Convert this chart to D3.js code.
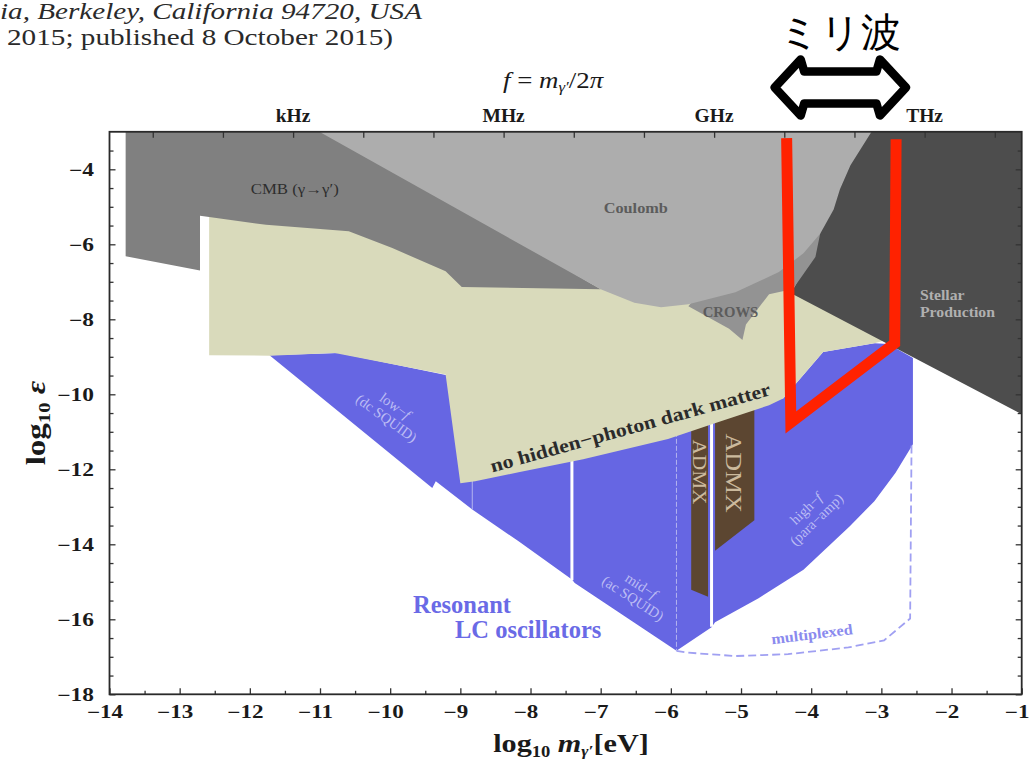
<!DOCTYPE html>
<html>
<head>
<meta charset="utf-8">
<script src="https://cdnjs.cloudflare.com/ajax/libs/d3/7.8.5/d3.min.js"></script>
<style>
  body { margin: 0; background: #fff; }
  svg { display: block; }
  text { font-family: "Liberation Serif", "Times New Roman", serif; }
</style>
</head>
<body>
<div id="chart"></div>
<script>
// all regions are [log10 m (eV), log10 epsilon]
var cmbRegion = [[-13.77,-3.0],[-10.8,-3.0],[-7.0,-7.2],[-8.98,-7.14],[-9.21,-6.72],[-9.97,-6.10],
    [-10.59,-5.65],[-11.77,-5.48],[-12.58,-5.27],[-12.71,-5.24],[-12.71,-6.70],[-13.77,-6.32]];

var coulombRegion = [[-11.01,-3.0],[-3.14,-3.0],[-3.44,-3.89],[-3.59,-4.53],[-3.68,-5.07],[-3.87,-5.71],
    [-4.11,-6.24],[-4.46,-6.74],[-5.08,-7.28],[-5.75,-7.60],[-6.14,-7.68],[-6.52,-7.56],[-7.0,-7.2]];

var crowsRegion = [[-5.75,-7.65],[-5.17,-8.25],[-4.98,-8.55],[-4.93,-8.14],[-4.60,-7.33],[-4.26,-7.19],
    [-3.94,-6.34],[-3.87,-5.70],[-4.0,-5.9],[-4.3,-6.3],[-4.9,-6.9],[-5.6,-7.3]];

var stellarRegion = [[-3.24,-3.0],[-1.0,-3.0],[-1.0,-10.53],[-4.26,-7.33],[-4.27,-7.25],[-4.02,-6.34],
    [-3.95,-5.71],[-3.76,-5.07],[-3.67,-4.53],[-3.52,-3.89]];

var darkMatterRegion = [[-12.58,-5.15],[-11.77,-5.35],[-10.59,-5.53],[-9.97,-5.98],[-9.21,-6.60],[-8.98,-7.02],
    [-7.0,-7.08],[-6.52,-7.45],[-6.14,-7.56],[-5.75,-7.53],[-5.17,-8.13],[-4.98,-8.43],[-4.93,-8.02],
    [-4.60,-7.21],[-4.26,-7.13],[-2.90,-8.54],[-3.10,-8.64],[-3.83,-8.87],[-4.40,-10.11],[-4.60,-10.29],
    [-5.32,-10.74],[-6.04,-11.19],[-7.25,-11.73],[-8.17,-12.08],[-8.79,-12.32],[-9.0,-12.37],
    [-9.21,-9.47],[-10.79,-8.90],[-11.72,-8.97],[-12.58,-8.96]];

var resonantRegion = [[-11.72,-8.96],[-10.73,-8.90],[-9.19,-9.49],[-4.40,-10.11],[-3.83,-8.87],[-3.10,-8.64],
    [-2.90,-8.66],[-2.55,-9.03],[-2.55,-11.33],[-2.80,-12.10],[-3.10,-12.85],[-3.45,-13.52],[-4.11,-14.68],
    [-4.75,-15.44],[-5.37,-16.08],[-5.42,-16.21],[-5.92,-16.84],[-7.37,-15.03],[-7.41,-14.94],[-8.17,-13.92],
    [-8.83,-13.07],[-9.35,-12.32],[-9.40,-12.50],[-11.30,-9.60]];

var admxSmall = [[-5.71,-10.7],[-5.47,-10.7],[-5.47,-15.40],[-5.71,-15.21]];
var admxLarge = [[-5.37,-10.4],[-4.81,-10.4],[-4.81,-13.36],[-5.37,-14.17]];

// white dividers between the LC bands
var dividerX = [-8.83, -7.41, -5.92, -5.42];
var dividerTop = [-12.2, -11.6, -11.0, -10.7];
var dividerBottom = [-13.07, -14.96, -16.84, -16.2];

var multiplexed = [[-5.92,-16.84],[-5.75,-16.89],[-5.08,-16.98],[-4.33,-16.93],[-3.47,-16.75],
    [-2.96,-16.56],[-2.59,-15.98],[-2.57,-11.36]];

var mmWaveLine = [[-4.35,-3.17],[-4.29,-10.75],[-2.81,-8.64],[-2.79,-3.2]];
var mmWaveRange = [-4.52, -2.65];

var xTickValues = d3.range(-14, 0, 1);
var yTickValues = d3.range(-18, -3, 2);
var freqNames = ["kHz", "MHz", "GHz", "THz"];
var freqLogHz = [3, 6, 9, 12];
var logHzPerEV = 14.3835;

var W = 1034, H = 763;

var x = d3.scaleLinear().domain([-14, -1]).range([109.5, 1021.7]);
var y = d3.scaleLinear().domain([-18, -3]).range([694.3, 131.8]);

var svg = d3.select("#chart").append("svg")
    .attr("width", W)
    .attr("height", H);

svg.append("clipPath").attr("id", "plotClip").append("rect")
    .attr("x", x(-14)).attr("y", y(-3))
    .attr("width", x(-1) - x(-14)).attr("height", y(-18) - y(-3));

var plot = svg.append("g").attr("clip-path", "url(#plotClip)");

var line = d3.line().x(function (d) { return x(d[0]) }).y(function (d) { return y(d[1]) });

function region(pts, fill) {
    plot.append("path").attr("d", line(pts) + "Z").attr("fill", fill);
}

function stretch(sel, k) {
    sel.each(function () {
        var w = this.getComputedTextLength();
        d3.select(this).attr("textLength", w * k).attr("lengthAdjust", "spacingAndGlyphs");
    });
}

region(resonantRegion, "#6666e3");
region(admxSmall, "#5c4631");
region(admxLarge, "#5c4631");

dividerX.forEach(function (d, i) {
    var thin = (i == 0 || i == 2);
    plot.append("line")
        .attr("x1", x(d)).attr("x2", x(d))
        .attr("y1", y(dividerTop[i])).attr("y2", y(dividerBottom[i]))
        .attr("stroke", thin ? "#b4b4ef" : "#ffffff")
        .attr("stroke-width", thin ? 1 : 3)
        .attr("stroke-dasharray", i == 2 ? "5,2" : null);
});

region(darkMatterRegion, "#d9dabb");
region(cmbRegion, "#808080");
region(stellarRegion, "#4d4d4d");
region(crowsRegion, "#939393");
region(coulombRegion, "#adadad");

plot.append("path")
    .attr("d", line(multiplexed))
    .attr("fill", "none")
    .attr("stroke", "#a0a0f2")
    .attr("stroke-width", 1.8)
    .attr("stroke-dasharray", "8,4");

// labels inside the plot; "|" switches to italic
function note(lines, X, Y, angle, opts) {
    var g = svg.append("g")
        .attr("transform", "translate(" + x(X) + "," + y(Y) + ") rotate(" + angle + ")");
    var lh = opts.lineHeight || opts.size * 1.0;
    lines.forEach(function (t, i) {
        var tx = g.append("text")
            .attr("x", 0)
            .attr("y", (i - (lines.length - 1) / 2) * lh)
            .attr("dy", "0.35em")
            .attr("text-anchor", opts.anchor || "middle")
            .attr("font-size", opts.size)
            .attr("font-weight", opts.weight || "normal")
            .attr("fill", opts.color);
        t.split("|").forEach(function (part, j) {
            tx.append("tspan").attr("font-style", j % 2 ? "italic" : "normal").text(part);
        });
        if (opts.stretch) stretch(tx, opts.stretch);
    });
}

note(["CMB (γ→γ′)"], -11.36, -4.53, 0, { size: 14, color: "#2e2e2e", stretch: 1.2 });
note(["Coulomb"], -6.50, -5.03, 0, { size: 15.5, color: "#5c5c5c", weight: "bold", stretch: 1.05 });
note(["CROWS"], -5.15, -7.81, 0, { size: 14, color: "#5c5c5c", weight: "bold", stretch: 1.05 });
note(["Stellar", "Production"], -2.45, -7.57, 0, { size: 15, color: "#b0b0b0", anchor: "start", weight: "bold", lineHeight: 16.5, stretch: 1.05 });
note(["low−|f|", "(dc SQUID)"], -9.99, -10.47, 36, { size: 14.5, color: "#bcbcf4", lineHeight: 15 });
note(["mid−|f|", "(ac SQUID)"], -6.48, -15.27, 33, { size: 14.5, color: "#bcbcf4", lineHeight: 15 });
note(["high−|f|", "(para−amp)"], -4.0, -13.19, -44, { size: 14.5, color: "#bcbcf4", lineHeight: 15 });
note(["multiplexed"], -3.99, -16.39, -7, { size: 15, color: "#8a8aee", weight: "bold", stretch: 1.08 });
note(["no hidden−photon dark matter"], -6.58, -10.88, -15.5, { size: 19, color: "#2b2b2b", weight: "bold", stretch: 1.15 });
note(["ADMX"], -5.59, -12.07, 90, { size: 19, color: "#cbb99d", stretch: 1.12 });
note(["ADMX"], -5.09, -12.1, 90, { size: 24, color: "#cbb99d", stretch: 1.08 });

svg.append("text")
    .attr("x", 413).attr("y", 613)
    .attr("font-size", 24.5).attr("font-weight", "bold").attr("fill", "#6a6ae6")
    .text("Resonant");
svg.append("text")
    .attr("x", 455).attr("y", 638)
    .attr("font-size", 24.5).attr("font-weight", "bold").attr("fill", "#6a6ae6")
    .text("LC oscillators");

// frame with ticks pointing inward
var tickColor = "#333";

function styleAxis(g) {
    g.select(".domain").remove();
    g.selectAll(".tick line").attr("stroke", tickColor).attr("stroke-width", 1.3);
    g.selectAll("text")
        .attr("font-family", "Liberation Serif, serif")
        .attr("font-weight", "bold")
        .attr("font-size", 18)
        .attr("fill", "#1a1a1a");
}

var halfX = d3.range(-13.5, -1, 1);
var halfY = d3.range(-17.5, -3, 0.5).filter(function (d) { return d % 2 != 0 });

var bottomAxis = svg.append("g")
    .attr("transform", "translate(0," + y(-18) + ")")
    .call(d3.axisBottom(x).tickValues(xTickValues).tickSizeInner(-6).tickSizeOuter(0).tickPadding(11));
styleAxis(bottomAxis);
bottomAxis.selectAll("text").attr("dx", -5);
stretch(bottomAxis.selectAll("text"), 1.28);

svg.append("g")
    .attr("transform", "translate(0," + y(-18) + ")")
    .call(d3.axisBottom(x).tickValues(halfX).tickSizeInner(-3.5).tickSizeOuter(0).tickFormat(""))
    .call(styleAxis);

var leftAxis = svg.append("g")
    .attr("transform", "translate(" + x(-14) + ",0)")
    .call(d3.axisLeft(y).tickValues(yTickValues).tickSizeInner(-6).tickSizeOuter(0).tickPadding(15.5));
styleAxis(leftAxis);
stretch(leftAxis.selectAll("text"), 1.3);

svg.append("g")
    .attr("transform", "translate(" + x(-14) + ",0)")
    .call(d3.axisLeft(y).tickValues(halfY).tickSizeInner(-4).tickSizeOuter(0).tickFormat(""))
    .call(styleAxis);

svg.append("g")
    .attr("transform", "translate(" + x(-1) + ",0)")
    .call(d3.axisRight(y).tickValues(yTickValues).tickSizeInner(-6).tickSizeOuter(0).tickFormat(""))
    .call(styleAxis);

svg.append("g")
    .attr("transform", "translate(" + x(-1) + ",0)")
    .call(d3.axisRight(y).tickValues(halfY).tickSizeInner(-4).tickSizeOuter(0).tickFormat(""))
    .call(styleAxis);

var decadeTicks = d3.range(1, 14).map(function (k) { return k - logHzPerEV });
svg.append("g")
    .attr("transform", "translate(0," + y(-3) + ")")
    .call(d3.axisTop(x).tickValues(decadeTicks).tickSizeInner(-6).tickSizeOuter(0).tickFormat(""))
    .call(styleAxis);

svg.append("rect")
    .attr("x", x(-14)).attr("y", y(-3))
    .attr("width", x(-1) - x(-14)).attr("height", y(-18) - y(-3))
    .attr("fill", "none")
    .attr("stroke", "#2a2a2a")
    .attr("stroke-width", 1.8);

// frequency labels along the top
freqNames.forEach(function (name, i) {
    svg.append("text")
        .attr("x", x(freqLogHz[i] - logHzPerEV))
        .attr("y", 122)
        .attr("text-anchor", "middle")
        .attr("font-size", 19.5)
        .attr("font-weight", "bold")
        .attr("fill", "#1a1a1a")
        .text(name);
});

var fLabel = svg.append("text")
    .attr("x", 503).attr("y", 88)
    .attr("font-size", 24)
    .attr("fill", "#1a1a1a");
fLabel.append("tspan").attr("font-style", "italic").text("f");
fLabel.append("tspan").text(" = ");
fLabel.append("tspan").attr("font-style", "italic").text("m");
fLabel.append("tspan").attr("font-style", "italic").attr("font-size", 15).attr("dy", 4).text("γ′");
fLabel.append("tspan").attr("dy", -4).text("/2");
fLabel.append("tspan").attr("font-style", "italic").text("π");
stretch(fLabel, 1.12);

// axis titles
var yTitle = svg.append("text")
    .attr("transform", "translate(45,423) rotate(-90)")
    .attr("text-anchor", "middle")
    .attr("font-size", 27)
    .attr("font-weight", "bold")
    .attr("fill", "#1a1a1a");
yTitle.append("tspan").text("log");
yTitle.append("tspan").attr("font-size", 17).attr("dy", 5).text("10");
yTitle.append("tspan").attr("dy", -5).text(" ");
yTitle.append("tspan").attr("font-style", "italic").text("ε");
stretch(yTitle, 1.22);

var xTitle = svg.append("text")
    .attr("x", 571).attr("y", 752)
    .attr("text-anchor", "middle")
    .attr("font-size", 26)
    .attr("font-weight", "bold")
    .attr("fill", "#1a1a1a");
xTitle.append("tspan").text("log");
xTitle.append("tspan").attr("font-size", 16).attr("dy", 5).text("10");
xTitle.append("tspan").attr("dy", -5).text(" ");
xTitle.append("tspan").attr("font-style", "italic").text("m");
xTitle.append("tspan").attr("font-style", "italic").attr("font-size", 15).attr("dy", 4).text("γ′");
xTitle.append("tspan").attr("dy", -4).text("[eV]");
stretch(xTitle, 1.16);

// millimetre-wave band marker
svg.append("path")
    .attr("d", line(mmWaveLine))
    .attr("fill", "none")
    .attr("stroke", "#ff2200")
    .attr("stroke-width", 11)
    .attr("stroke-linejoin", "miter");

var ax0 = x(mmWaveRange[0]), ax1 = x(mmWaveRange[1]), ay = 87.5;
var head = 26, headH = 28, shaftH = 16;
var arrowPts = [
    [ax0, ay], [ax0 + head, ay - headH], [ax0 + head + 3.5, ay - shaftH],
    [ax1 - head - 3.5, ay - shaftH], [ax1 - head, ay - headH], [ax1, ay],
    [ax1 - head, ay + headH], [ax1 - head - 3.5, ay + shaftH],
    [ax0 + head + 3.5, ay + shaftH], [ax0 + head, ay + headH]
];
svg.append("path")
    .attr("d", "M" + arrowPts.join("L") + "Z")
    .attr("fill", "#fff")
    .attr("stroke", "#000")
    .attr("stroke-width", 8.5)
    .attr("stroke-linejoin", "round");

svg.append("text")
    .attr("x", (ax0 + ax1) / 2 - 0.5).attr("y", 46)
    .attr("text-anchor", "middle")
    .attr("font-family", "Noto Sans CJK JP")
    .attr("font-size", 40)
    .attr("font-weight", 500)
    .attr("fill", "#000")
    .text("ミリ波");

// cut-off header from the paper page
svg.append("text")
    .attr("x", 0).attr("y", 19)
    .attr("font-size", 23).attr("font-style", "italic").attr("fill", "#2a2a2a")
    .attr("textLength", 422).attr("lengthAdjust", "spacingAndGlyphs")
    .text("ia, Berkeley, California 94720, USA");
svg.append("text")
    .attr("x", 7).attr("y", 45)
    .attr("font-size", 23).attr("fill", "#2a2a2a")
    .attr("textLength", 386).attr("lengthAdjust", "spacingAndGlyphs")
    .text("2015; published 8 October 2015)");
</script>
</body>
</html>
